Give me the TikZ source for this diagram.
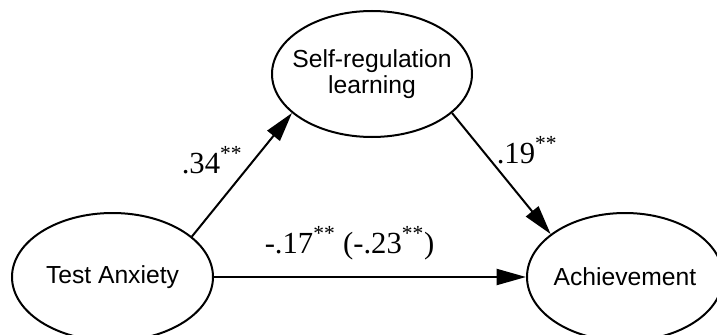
\documentclass[tikz,border=0pt]{standalone}
\usepackage{fontspec}
\setmainfont{Liberation Serif}
\setsansfont{Liberation Sans}
\usetikzlibrary{arrows.meta,shapes.geometric}

\begin{document}
\begin{tikzpicture}[x=0.75pt,y=-0.75pt,>={Triangle[length=22pt,width=12pt]},
  every node/.style={font=\sffamily\fontsize{18.5}{19}\selectfont},
  var/.style={shape=ellipse,draw,line width=1.5pt,inner xsep=-8pt,inner ysep=0pt,align=center},
  link/.style={->,line width=1.5pt},
  coef/.style={font=\rmfamily\fontsize{23}{23}\selectfont,anchor=base,inner sep=0pt}]
  \useasboundingbox (0,0) rectangle (717,335);
  \clip (0,0) rectangle (717,335);
  \node[var,minimum width=150pt,minimum height=94.5pt] (srl) at (372,74)
    {Self-regulation\\learning};
  \node[var,minimum width=150.75pt,minimum height=96pt] (anxiety) at (112.5,277)
    {Test Anxiety};
  \node[var,minimum width=147pt,minimum height=96pt] (achieve) at (625,277)
    {Achievement};
  \draw[link] (anxiety.27) -- (srl.206);
  \draw[link] (srl.334) -- (achieve.150);
  \draw[link] (anxiety) -- (achieve);
  \node[coef] (a) at (212,173) {.34\textsuperscript{**}};
  \node[coef] (b) at (527,163) {.19\textsuperscript{**}};
  \node[coef] (c) at (349.5,253) {-.17\textsuperscript{**} (-.23\textsuperscript{**})};
\end{tikzpicture}
\end{document}
